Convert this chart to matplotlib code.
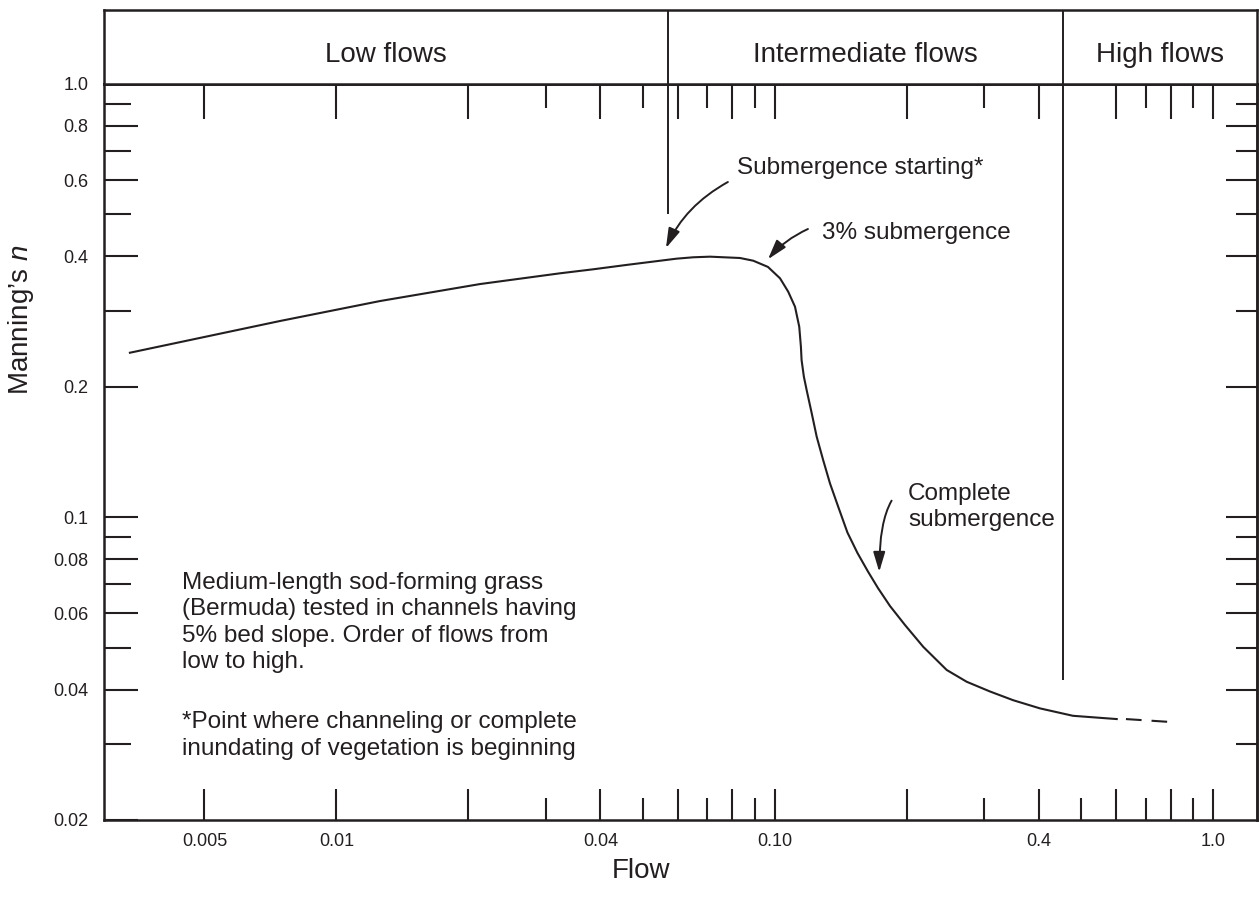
import numpy as np
import matplotlib.pyplot as plt
from matplotlib.ticker import NullFormatter

plt.rcParams['font.family'] = ['Liberation Sans', 'DejaVu Sans']
plt.rcParams['mathtext.fontset'] = 'custom'
plt.rcParams['mathtext.it'] = 'Liberation Sans:italic'
plt.rcParams['mathtext.rm'] = 'Liberation Sans'

ink = '#231f20'

# Manning's n curve
flow = [0.00338, 0.00743, 0.01257, 0.02125, 0.03234, 0.03852, 0.04591, 0.05967,
        0.0651, 0.0711, 0.08321, 0.08924, 0.09639, 0.1027, 0.1072, 0.1111, 0.1136,
        0.1146, 0.1150, 0.1164, 0.1181, 0.1213, 0.1245, 0.1288, 0.1335, 0.1394,
        0.1463, 0.1542, 0.1630, 0.1718, 0.1829, 0.1979, 0.2179, 0.2464, 0.2737,
        0.3093, 0.3495, 0.4021, 0.4781, 0.6018]
manning_n = [0.2397, 0.2837, 0.3155, 0.3453, 0.3656, 0.3735, 0.3823, 0.3952,
             0.3981, 0.3994, 0.3966, 0.3909, 0.3782, 0.3560, 0.3316, 0.3061, 0.2753,
             0.2475, 0.2306, 0.2110, 0.1966, 0.1737, 0.1534, 0.1355, 0.1197, 0.1057,
             0.0922, 0.0827, 0.0749, 0.0686, 0.0624, 0.0564, 0.0502, 0.0444, 0.0417,
             0.0396, 0.0378, 0.0362, 0.0348, 0.0342]
# dashed extension at the high end
flow_ext = [0.6317, 0.7886]
n_ext = [0.0342, 0.0337]

# flow regimes
zones = ['Low flows', 'Intermediate flows', 'High flows']
zone_edges = [0.0570, 0.4536]
zone_line_bottom = [0.5, 0.042]

x_lim = (0.00295, 1.257)
y_lim = (0.02, 1.0)

x_major = [0.005, 0.01, 0.02, 0.04, 0.06, 0.08, 0.1, 0.2, 0.4, 0.6, 0.8, 1.0]
x_labels = ['0.005', '0.01', '', '0.04', '', '', '0.10', '', '0.4', '', '', '1.0']
x_minor = [0.03, 0.05, 0.07, 0.09, 0.3, 0.5, 0.7, 0.9]
x_minor_top = [0.03, 0.05, 0.07, 0.09, 0.3, 0.7, 0.9]

y_major = [0.02, 0.04, 0.06, 0.08, 0.1, 0.2, 0.4, 0.6, 0.8, 1.0]
y_labels = ['0.02', '0.04', '0.06', '0.08', '0.1', '0.2', '0.4', '0.6', '0.8', '1.0']
y_minor = [0.03, 0.05, 0.07, 0.09, 0.3, 0.5, 0.7, 0.9]
y_major_right = [0.04, 0.06, 0.08, 0.1, 0.2, 0.4, 0.6, 0.8]

W, H = 1259, 911
fig = plt.figure(figsize=(W / 100, H / 100), dpi=100)
L, R, T, B, HT = 104, 1257, 84, 820, 10
ax = fig.add_axes([L / W, (H - B) / H, (R - L) / W, (B - T) / H])
hdr = fig.add_axes([L / W, (H - T) / H, (R - L) / W, (T - HT) / H])

ax.set_xscale('log')
ax.set_yscale('log')
ax.set_xlim(*x_lim)
ax.set_ylim(*y_lim)

ax.plot(flow, manning_n, color=ink, lw=1.5, solid_joinstyle='round')
ax.plot(flow_ext, n_ext, color=ink, lw=1.5, linestyle=(0, (7.5, 4.8)),
        dash_capstyle='butt')

# ticks
ax.set_xticks(x_major, x_labels)
ax.set_xticks(x_minor, minor=True)
ax.set_yticks(y_major, y_labels)
ax.set_yticks(y_minor, minor=True)
ax.xaxis.set_minor_formatter(NullFormatter())
ax.yaxis.set_minor_formatter(NullFormatter())
ax.tick_params(axis='x', which='major', direction='in', length=22.3, width=1.5,
               color=ink, labelsize=13, pad=9, top=False, labelcolor=ink)
ax.tick_params(axis='x', which='minor', direction='in', length=15.8, width=1.5,
               color=ink, top=False)
ax.tick_params(axis='y', which='major', direction='in', length=24.5, width=1.5,
               color=ink, labelsize=13, pad=11, right=False, labelcolor=ink)
ax.tick_params(axis='y', which='minor', direction='in', length=19.4, width=1.5,
               color=ink, right=False)

top = ax.secondary_xaxis('top')
top.set_xticks(x_major)
top.set_xticks(x_minor_top, minor=True)
top.xaxis.set_minor_formatter(NullFormatter())
top.tick_params(which='major', direction='in', length=25, width=1.5, color=ink,
                labeltop=False)
top.tick_params(which='minor', direction='in', length=17, width=1.5, color=ink)

right = ax.secondary_yaxis('right')
right.set_yticks(y_major_right)
right.set_yticks(y_minor, minor=True)
right.yaxis.set_minor_formatter(NullFormatter())
right.tick_params(which='major', direction='in', length=22.3, width=1.5, color=ink,
                  labelright=False)
right.tick_params(which='minor', direction='in', length=15.1, width=1.5, color=ink)

for a in (ax, hdr, top, right):
    for s in a.spines.values():
        s.set_linewidth(1.8)
        s.set_color(ink)

# header band with the flow regimes
hdr.set_xscale('log')
hdr.set_xlim(*x_lim)
hdr.set_ylim(0, 1)
hdr.tick_params(which='both', bottom=False, left=False, labelbottom=False,
                labelleft=False)
bounds = [x_lim[0]] + zone_edges + [x_lim[1]]
for i, name in enumerate(zones):
    xc = np.sqrt(bounds[i] * bounds[i + 1])
    hdr.text(xc, 0.30, name, ha='center', va='baseline', fontsize=20, color=ink)
for xe, yb in zip(zone_edges, zone_line_bottom):
    hdr.axvline(xe, color=ink, lw=1.4)
    ax.vlines(xe, yb, y_lim[1], color=ink, lw=1.4)

# annotations
arrow = dict(arrowstyle='-|>,head_length=0.6,head_width=0.18', color=ink, lw=1.4,
             mutation_scale=20, shrinkA=0, shrinkB=0)
ax.annotate('', xy=(0.05641, 0.418), xytext=(0.0781, 0.594),
            arrowprops=dict(arrow, connectionstyle='angle3,angleA=29,angleB=66'))
ax.annotate('', xy=(0.0964, 0.3939), xytext=(0.1189, 0.4627),
            arrowprops=dict(arrow, connectionstyle='angle3,angleA=25,angleB=50'))
ax.annotate('', xy=(0.1729, 0.0748), xytext=(0.1845, 0.1092),
            arrowprops=dict(arrow, connectionstyle='angle3,angleA=60,angleB=90'))

txt = dict(fontsize=17.5, color=ink, va='baseline', linespacing=1.25)
ax.text(0.0819, 0.620, 'Submergence starting*', **txt)
ax.text(0.128, 0.4387, '3% submergence', **txt)
# multi-line texts are anchored at the baseline of their last line
ax.text(0.2011, 0.0954, 'Complete\nsubmergence', **txt)
ax.text(0.00444, 0.0449, 'Medium-length sod-forming grass\n(Bermuda) tested in channels having\n'
        '5% bed slope. Order of flows from\nlow to high.', **txt)
ax.text(0.00444, 0.0283, '*Point where channeling or complete\n'
        'inundating of vegetation is beginning', **txt)

ax.set_xlabel('Flow', fontsize=20, color=ink)
ax.xaxis.set_label_coords(0.466, -0.052)
ax.set_ylabel('Manning\u2019s $n$', fontsize=20, color=ink)
ax.yaxis.set_label_coords(-0.059, 0.679)

fig.savefig('out.png', dpi=100)
